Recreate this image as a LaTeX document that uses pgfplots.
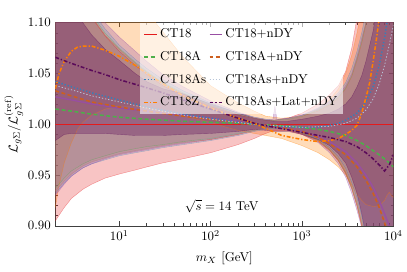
\documentclass[border=0pt]{standalone}
\usepackage{pgfplots}
\usepackage{pgfplotstable}
\pgfplotsset{compat=1.18}
\usepgfplotslibrary{fillbetween}
\usetikzlibrary{calc}

\definecolor{cRed}{RGB}{228,26,28}
\definecolor{cGreen}{RGB}{77,175,74}
\definecolor{cBlue}{RGB}{55,126,184}
\definecolor{cOrange}{RGB}{255,127,0}
\definecolor{cPurple}{RGB}{152,78,163}
\definecolor{cBrown}{RGB}{205,95,30}
\definecolor{cGray}{RGB}{150,170,200}
\definecolor{cDark}{RGB}{90,10,90}

% bands: m lo hi
\pgfplotstableread{
m lo hi
2 0.905 1.227
2.5 0.918 1.187
3 0.927 1.157
4 0.936 1.122
5 0.941 1.105
7 0.947 1.087
10 0.951 1.072
15 0.955 1.058
20 0.958 1.049
30 0.962 1.038
50 0.966 1.028
100 0.972 1.017
200 0.980 1.009
300 0.986 1.006
400 0.991 1.004
500 0.994 1.004
700 0.994 1.006
1000 0.990 1.011
1500 0.983 1.020
2000 0.974 1.029
2500 0.964 1.038
3000 0.952 1.052
3500 0.937 1.075
4000 0.920 1.105
4500 0.900 1.14
5000 0.878 1.17
6000 0.83 1.25
7000 0.77 1.35
8000 0.71 1.45
9000 0.65 1.55
10000 0.58 1.65
}\bCT

\pgfplotstableread{
m lo hi
2 0.937 1.23
2.5 0.947 1.19
3 0.954 1.16
4 0.961 1.125
5 0.965 1.108
7 0.969 1.09
10 0.973 1.075
15 0.976 1.061
20 0.978 1.052
30 0.980 1.041
50 0.983 1.031
100 0.986 1.019
200 0.991 1.010
300 0.994 1.006
400 0.996 1.004
500 0.996 1.004
700 0.995 1.005
1000 0.991 1.008
1500 0.984 1.014
2000 0.975 1.020
2500 0.965 1.027
3000 0.953 1.036
3500 0.938 1.048
4000 0.922 1.065
4500 0.903 1.082
5000 0.88 1.10
6000 0.83 1.15
7000 0.77 1.22
8000 0.71 1.30
9000 0.65 1.40
10000 0.58 1.50
}\bA

\pgfplotstableread{
m lo hi
2 0.932 1.24
2.5 0.942 1.20
3 0.949 1.17
4 0.957 1.13
5 0.961 1.112
7 0.965 1.094
10 0.969 1.078
15 0.972 1.064
20 0.974 1.055
30 0.977 1.044
50 0.980 1.033
100 0.984 1.021
200 0.989 1.011
300 0.993 1.007
400 0.995 1.005
500 0.996 1.004
700 0.995 1.006
1000 0.992 1.009
1500 0.985 1.016
2000 0.977 1.023
2500 0.968 1.031
3000 0.957 1.041
3500 0.943 1.055
4000 0.928 1.072
4500 0.910 1.09
5000 0.89 1.11
6000 0.84 1.16
7000 0.78 1.24
8000 0.72 1.32
9000 0.66 1.42
10000 0.60 1.52
}\bAs

\pgfplotstableread{
m lo hi
2 0.918 1.5
2.2 0.940 1.48
2.5 0.962 1.45
3 0.982 1.40
3.5 0.995 1.36
4 1.002 1.33
5 1.009 1.29
7 1.015 1.23
10 1.018 1.18
15 1.018 1.13
20 1.016 1.11
25 1.014 1.10
50 1.008 1.066
100 1.002 1.038
150 0.997 1.028
200 0.994 1.021
300 0.991 1.013
400 0.989 1.008
600 0.986 1.006
1000 0.979 1.008
1500 0.972 1.015
2000 0.965 1.024
2500 0.958 1.035
3000 0.950 1.05
3500 0.940 1.068
4000 0.931 1.09
4500 0.925 1.115
5000 0.921 1.15
6000 0.919 1.22
7000 0.920 1.30
8000 0.925 1.40
8500 0.930 1.45
9000 0.933 1.5
9500 0.930 1.55
10000 0.928 1.6
}\bZ

\pgfplotstableread{
m lo hi
2 0.930 1.26
2.5 0.941 1.22
3 0.949 1.19
4 0.957 1.15
5 0.961 1.13
7 0.966 1.10
10 0.970 1.086
15 0.973 1.072
20 0.975 1.062
30 0.978 1.049
50 0.981 1.037
100 0.985 1.023
200 0.990 1.012
300 0.994 1.007
400 0.996 1.005
480 0.996 1.005
505 0.996 1.018
530 0.996 1.005
700 0.995 1.006
1000 0.990 1.009
1500 0.982 1.015
2000 0.972 1.022
2500 0.961 1.029
3000 0.948 1.038
3500 0.932 1.050
4000 0.915 1.067
4500 0.898 1.085
5000 0.875 1.10
6000 0.82 1.15
7000 0.76 1.22
8000 0.70 1.30
9000 0.64 1.40
10000 0.57 1.50
}\bN

\pgfplotstableread{
m lo hi
2 0.934 1.225
2.5 0.944 1.185
3 0.951 1.158
4 0.959 1.123
5 0.963 1.106
7 0.967 1.088
10 0.971 1.074
15 0.974 1.060
20 0.976 1.051
30 0.979 1.040
50 0.982 1.030
100 0.985 1.018
200 0.990 1.010
300 0.994 1.006
400 0.996 1.004
500 0.996 1.004
700 0.995 1.005
1000 0.991 1.008
1500 0.984 1.013
2000 0.975 1.019
2500 0.964 1.026
3000 0.951 1.035
3500 0.936 1.047
4000 0.919 1.063
4500 0.900 1.080
5000 0.877 1.098
6000 0.83 1.15
7000 0.77 1.22
8000 0.71 1.30
9000 0.65 1.40
10000 0.58 1.50
}\bAN

\pgfplotstableread{
m lo hi
2 0.934 1.235
2.5 0.944 1.195
3 0.951 1.166
4 0.959 1.127
5 0.963 1.110
7 0.967 1.092
10 0.971 1.076
15 0.974 1.062
20 0.976 1.053
30 0.979 1.042
50 0.982 1.032
100 0.986 1.020
200 0.991 1.010
300 0.994 1.006
400 0.996 1.004
500 0.996 1.004
700 0.995 1.005
1000 0.992 1.008
1500 0.986 1.015
2000 0.978 1.022
2500 0.969 1.030
3000 0.958 1.040
3500 0.944 1.053
4000 0.929 1.070
4500 0.911 1.088
5000 0.89 1.108
6000 0.84 1.16
7000 0.78 1.23
8000 0.72 1.31
9000 0.66 1.41
10000 0.60 1.51
}\bAsN

\pgfplotstableread{
m lo hi
2 0.984 1.20
2.5 0.990 1.16
3 0.991 1.135
4 0.991 1.10
5 0.991 1.088
7 0.991 1.074
10 0.990 1.063
15 0.989 1.050
20 0.989 1.042
30 0.989 1.035
50 0.990 1.030
100 0.991 1.020
200 0.993 1.011
300 0.995 1.006
400 0.994 1.004
500 0.993 1.003
700 0.993 1.003
1000 0.990 1.005
1500 0.985 1.008
2000 0.979 1.011
2500 0.971 1.015
3000 0.962 1.020
3500 0.948 1.027
4000 0.932 1.037
4500 0.912 1.048
5000 0.89 1.062
6000 0.84 1.092
7000 0.78 1.13
8000 0.72 1.18
9000 0.66 1.24
10000 0.60 1.30
}\bL

\newcommand{\band}[4]{%
  \addplot[name path=#3hi, draw=#2, draw opacity=0.45, line width=0.3pt, forget plot] table[x=m,y=hi]{#1};
  \addplot[name path=#3lo, draw=#2, draw opacity=0.45, line width=0.3pt, forget plot] table[x=m,y=lo]{#1};
  \addplot[fill=#2, fill opacity=#4, draw=none, forget plot] fill between[of=#3hi and #3lo];
}

\begin{document}
\begin{tikzpicture}
\begin{axis}[
  scale only axis,
  width=263pt, height=158pt,
  xmode=log,
  xmin=2, xmax=10000,
  ymin=0.90, ymax=1.10,
  xtick={10,100,1000,10000},
  ytick={0.90,0.95,1.00,1.05,1.10},
  minor y tick num=4,
  yticklabel style={/pgf/number format/.cd, fixed, fixed zerofill, precision=2},
  tick align=inside,
  major tick length=3.5pt,
  minor tick length=2pt,
  axis line style={black!75},
  every tick/.style={black!75},
  xlabel={$m_X$ [GeV]},
  ylabel={$\mathcal{L}_{g\Sigma}/\mathcal{L}_{g\Sigma}^{(\mathrm{ref})}$},
  xlabel style={at={(axis description cs:0.5,-0.161)}, anchor=center},
  ylabel style={at={(axis description cs:-0.123,0.5)}, anchor=center},
  legend columns=2,
  legend cell align=left,
  legend style={at={(rel axis cs:0.551,1)}, anchor=north, draw=none,
    fill=white, fill opacity=0.6, text opacity=1, row sep=5pt,
    inner sep=2.5pt, font=\normalsize},
  legend image code/.code={\draw[#1, opacity=1] (0cm,0cm) -- (0.34cm,0cm);},
]
\band{\bZ}{cOrange}{d}{0.27}
\band{\bCT}{cRed}{a}{0.26}
\band{\bA}{cGreen}{b}{0.15}
\band{\bAs}{cBlue}{c}{0.15}
\band{\bN}{cPurple}{e}{0.3}
\band{\bAN}{cBrown}{f}{0.2}
\band{\bAsN}{cGray}{g}{0.15}
\band{\bL}{cDark}{h}{0.32}

% central lines (legend order)
\addplot[cRed, line width=1pt] coordinates {(2,1) (10000,1)};
\addlegendentry{CT18}
\addplot[cPurple, line width=1pt] coordinates {
(2,1.027) (3,1.024) (5,1.020) (10,1.016) (20,1.013) (50,1.009) (100,1.006) (200,1.003) (300,1.000) (500,0.998) (1000,0.993) (1500,0.988) (2000,0.983) (3000,0.973) (4000,0.962) (5000,0.950) (6000,0.938) (7000,0.925) (8000,0.912) (9000,0.900) (10000,0.888)};
\addlegendentry{CT18+nDY}
\addplot[cGreen, line width=1.2pt, dash pattern=on 3pt off 2pt] coordinates {
(2,1.015) (3,1.013) (5,1.010) (10,1.007) (20,1.005) (50,1.003) (100,1.002) (200,1.001) (300,1.000) (500,0.999) (1000,0.997) (1500,0.995) (2000,0.993) (3000,0.989) (4000,0.984) (5000,0.979) (6000,0.974) (7000,0.970) (8000,0.966) (9000,0.962) (10000,0.958)};
\addlegendentry{CT18A}
\addplot[cBrown, line width=1.2pt, dash pattern=on 3pt off 2pt] coordinates {
(2,1.033) (3,1.028) (5,1.022) (10,1.017) (20,1.013) (50,1.008) (100,1.005) (200,1.002) (300,1.000) (500,0.998) (1000,0.993) (1500,0.987) (2000,0.981) (3000,0.970) (4000,0.958) (5000,0.945) (6000,0.932) (7000,0.918) (8000,0.903) (9000,0.888) (10000,0.875)};
\addlegendentry{CT18A+nDY}
\addplot[cBlue, line width=1.2pt, dash pattern=on 1pt off 1.5pt] coordinates {
(2,1.042) (3,1.037) (5,1.031) (10,1.024) (20,1.017) (50,1.010) (100,1.006) (200,1.002) (300,1.000) (500,0.998) (1000,0.997) (1500,0.997) (2000,0.999) (2500,1.001) (3000,1.004) (4000,1.011) (5000,1.022) (6000,1.037) (7000,1.058) (8000,1.085) (8500,1.10) (9000,1.12)};
\addlegendentry{CT18As}
\addplot[cGray!70, line width=0.6pt, dash pattern=on 1pt off 1.5pt] coordinates {
(2,1.038) (3,1.034) (5,1.028) (10,1.022) (20,1.016) (50,1.009) (100,1.005) (300,1.000) (1000,0.997) (2000,0.998) (3000,1.001) (4000,1.006) (5000,1.014) (6000,1.025) (7000,1.040) (8000,1.058) (9000,1.078) (10000,1.098)};
\addlegendentry{CT18As+nDY}
\addplot[cOrange, line width=1.2pt, dash pattern=on 3pt off 1.5pt on 1pt off 1.5pt] coordinates {
(2,1.035) (2.2,1.050) (2.5,1.062) (3,1.072) (3.5,1.076) (4,1.077) (5,1.077) (7,1.073) (10,1.067) (15,1.058) (20,1.050) (30,1.040) (50,1.028) (100,1.016) (200,1.006) (300,1.001) (400,0.996) (600,0.989) (1000,0.985) (1500,0.983) (2000,0.984) (2500,0.986) (3000,0.990) (3500,0.994) (4000,0.999) (4500,1.011) (5000,1.026) (5500,1.041) (6000,1.062) (6500,1.083) (7000,1.105) (7500,1.13)};
\addlegendentry{CT18Z}
\addplot[cDark, line width=1.2pt, dash pattern=on 3pt off 1.5pt on 1pt off 1.5pt] coordinates {
(2,1.066) (3,1.060) (5,1.053) (7,1.049) (10,1.044) (20,1.036) (30,1.031) (50,1.024) (100,1.015) (200,1.006) (300,1.001) (500,0.997) (1000,0.992) (2000,0.987) (3000,0.983) (4000,0.978) (5000,0.972) (6000,0.966) (7000,0.960) (8000,0.954) (9000,0.960) (10000,0.970)};
\addlegendentry{CT18As+Lat+nDY}

\node at (axis cs:132,0.919) {$\sqrt{s}=14$ TeV};
\end{axis}
\path ($(current axis.south west)+(-41.5pt,-35.4pt)$) rectangle ($(current axis.north east)+(8.5pt,17.7pt)$);
\end{tikzpicture}
\end{document}
